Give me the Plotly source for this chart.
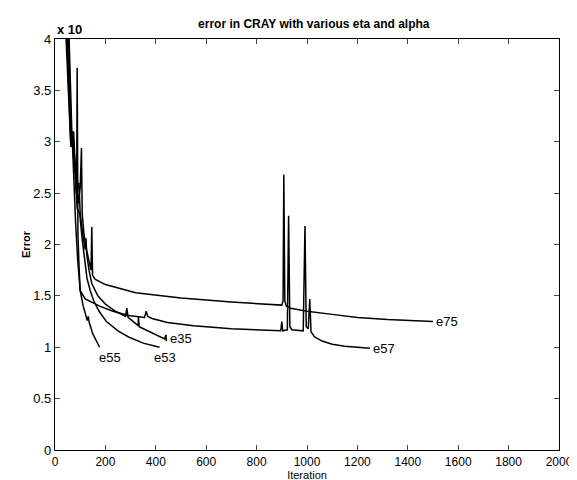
import plotly.graph_objects as go

# ---- data (iteration, error) ----
e75_x = [50, 58, 64, 68, 74, 80, 86, 92, 100, 105, 108, 115, 125, 135, 143, 146, 149, 160, 200, 320, 500, 700, 900, 905, 908, 912, 918, 935, 1000, 1100, 1200, 1320, 1500]
e75_y = [4.5, 3.9, 3.4, 3.0, 3.1, 2.75, 2.6, 2.4, 2.55, 2.94, 2.3, 2.1, 1.95, 1.85, 1.75, 2.17, 1.70, 1.66, 1.61, 1.53, 1.48, 1.44, 1.41, 1.45, 2.68, 1.45, 1.40, 1.38, 1.35, 1.32, 1.29, 1.27, 1.25]

e57_x = [40, 50, 58, 63, 70, 80, 86, 88, 91, 96, 100, 120, 150, 177, 230, 292, 355, 362, 368, 385, 446, 550, 700, 896, 900, 904, 922, 927, 932, 940, 985, 992, 997, 1005, 1011, 1016, 1030, 1060, 1100, 1150, 1250]
e57_y = [4.5, 3.8, 3.3, 2.95, 3.1, 2.8, 2.6, 3.72, 2.1, 1.75, 1.55, 1.47, 1.43, 1.40, 1.35, 1.31, 1.29, 1.35, 1.30, 1.28, 1.24, 1.21, 1.18, 1.16, 1.25, 1.16, 1.17, 2.28, 1.20, 1.17, 1.16, 2.18, 1.20, 1.18, 1.47, 1.15, 1.10, 1.06, 1.03, 1.01, 0.99]

e35_x = [45, 55, 62, 66, 72, 78, 85, 95, 100, 110, 120, 123, 126, 135, 146, 170, 200, 240, 280, 285, 290, 330, 331, 334, 385, 435, 440, 442]
e35_y = [4.5, 3.9, 3.3, 2.95, 3.0, 2.7, 2.5, 2.6, 2.3, 2.1, 1.95, 2.06, 1.9, 1.75, 1.62, 1.50, 1.42, 1.35, 1.30, 1.38, 1.29, 1.21, 1.30, 1.20, 1.14, 1.08, 1.12, 1.06]

e53_x = [40, 50, 58, 64, 70, 74, 80, 88, 98, 108, 118, 127, 140, 154, 175, 204, 250, 292, 350, 415]
e53_y = [4.5, 4.0, 3.5, 3.0, 3.1, 2.85, 2.7, 2.35, 2.3, 2.05, 1.85, 1.67, 1.55, 1.45, 1.35, 1.25, 1.16, 1.10, 1.04, 1.0]

e55_x = [35, 45, 55, 62, 68, 75, 82, 90, 100, 112, 122, 128, 132, 136, 150, 165, 177]
e55_y = [4.5, 3.9, 3.4, 3.0, 3.05, 2.6, 2.2, 1.85, 1.55, 1.40, 1.32, 1.26, 1.30, 1.24, 1.13, 1.05, 1.0]

series = [("e75", e75_x, e75_y), ("e57", e57_x, e57_y), ("e35", e35_x, e35_y),
          ("e53", e53_x, e53_y), ("e55", e55_x, e55_y)]

# label anchor points (iteration, error) for the curve names
label_names = ["e75", "e57", "e35", "e53", "e55"]
label_x = [1505, 1255, 450, 385, 165]
label_y = [1.25, 0.99, 1.09, 0.90, 0.90]

x_ticks = [0, 200, 400, 600, 800, 1000, 1200, 1400, 1600, 1800, 2000]
y_ticks = [0, 0.5, 1, 1.5, 2, 2.5, 3, 3.5, 4]
y_tick_text = ["0", "0.5", "1", "1.5", "2", "2.5", "3", "3.5", "4"]

FONT = "Liberation Sans, Arial, sans-serif"

fig = go.Figure()
for name, xs, ys in series:
    fig.add_trace(go.Scatter(x=xs, y=ys, mode="lines", name=name,
                             line=dict(color="black", width=1.5),
                             showlegend=False))

for n, lx, ly in zip(label_names, label_x, label_y):
    fig.add_annotation(x=lx, y=ly, text=n, showarrow=False,
                       xanchor="left", yanchor="middle",
                       font=dict(family=FONT, size=13, color="black"))

fig.add_annotation(xref="paper", yref="paper", x=0, y=1, text="<b>x 10</b>",
                   showarrow=False, xanchor="left", yanchor="bottom",
                   font=dict(family=FONT, size=13, color="black"))

fig.update_layout(
    width=577, height=480,
    margin=dict(l=47, r=15, t=31, b=31),
    paper_bgcolor="white", plot_bgcolor="white",
    title=dict(text="<b>error in CRAY with various eta and alpha</b>",
               x=0.53, xanchor="center", y=0.968, yanchor="middle",
               font=dict(family=FONT, size=12, color="black")),
    font=dict(family=FONT, color="black"),
)
fig.update_xaxes(range=[0, 2000], tickvals=x_ticks, ticks="inside", ticklen=5,
                 showline=True, linecolor="black", linewidth=1.3, mirror="ticks",
                 showgrid=False, zeroline=False, ticklabelstandoff=0,
                 tickfont=dict(family=FONT, size=12, color="black"),
                 title=dict(text="Iteration", standoff=0,
                            font=dict(family=FONT, size=11, color="black")))
fig.update_yaxes(range=[0, 4], tickvals=y_ticks, ticktext=y_tick_text,
                 ticks="inside", ticklen=5,
                 showline=True, linecolor="black", linewidth=1.3, mirror="ticks",
                 showgrid=False, zeroline=False,
                 tickfont=dict(family=FONT, size=13, color="black"),
                 title=dict(text="<b>Error</b>", standoff=0,
                            font=dict(family=FONT, size=11, color="black")))

fig.write_html("out.html")
